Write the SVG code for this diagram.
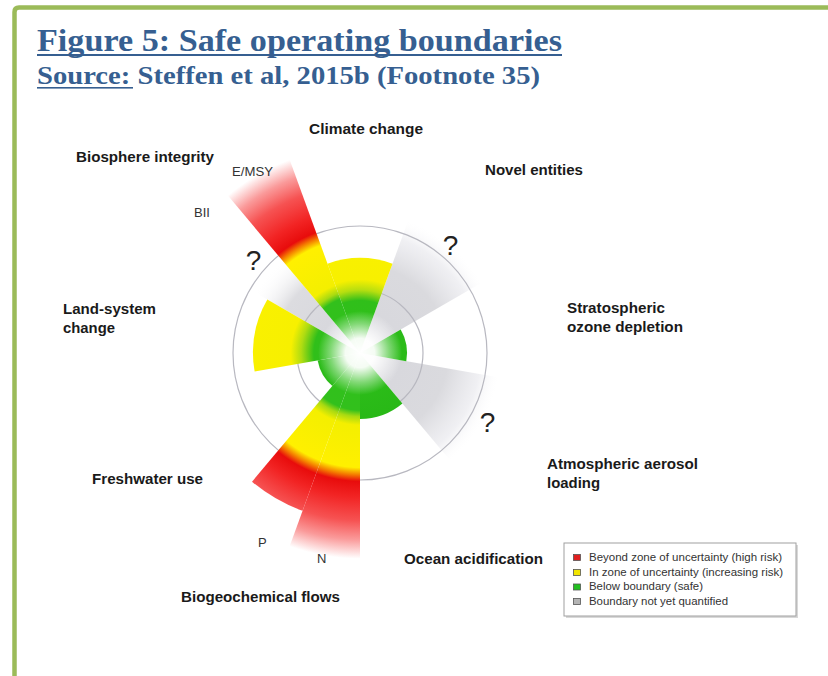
<svg xmlns="http://www.w3.org/2000/svg" width="828" height="676" viewBox="0 0 828 676">
<style>
.lb{font-family:"Liberation Sans",Arial,sans-serif;font-weight:bold;font-size:15px;fill:#1a1a1a}
.sm{font-family:"Liberation Sans",Arial,sans-serif;font-size:13px;fill:#333}
.q{font-family:"Liberation Sans",Arial,sans-serif;font-size:28px;fill:#222}
.lg{font-family:"Liberation Sans",Arial,sans-serif;font-size:11px;fill:#333}
.ttl{font-family:"Liberation Serif","Times New Roman",serif;font-weight:bold;fill:#365f91}
.ring{fill:none;stroke:#b8b8c0;stroke-width:1.2}
.sw{stroke:#555;stroke-width:0.8}
</style>
<defs>
<radialGradient id="gCC" gradientUnits="userSpaceOnUse" cx="360" cy="353" r="210">
<stop offset="0" stop-color="#2fc01c"/><stop offset="0.25" stop-color="#30bf1a"/><stop offset="0.3" stop-color="#b6de10"/><stop offset="0.35" stop-color="#f7f000"/><stop offset="1" stop-color="#fff200"/>
</radialGradient>
<radialGradient id="gLand" gradientUnits="userSpaceOnUse" cx="360" cy="353" r="210">
<stop offset="0" stop-color="#2fc01c"/><stop offset="0.22" stop-color="#30bf1a"/><stop offset="0.28" stop-color="#b0dc12"/><stop offset="0.33" stop-color="#f7f000"/><stop offset="1" stop-color="#fff200"/>
</radialGradient>
<radialGradient id="gHigh" gradientUnits="userSpaceOnUse" cx="360" cy="353" r="212">
<stop offset="0" stop-color="#2fc01c"/><stop offset="0.27" stop-color="#32c01c"/><stop offset="0.3" stop-color="#a8da12"/><stop offset="0.34" stop-color="#f4ef00"/><stop offset="0.54" stop-color="#fff000"/><stop offset="0.575" stop-color="#f47a00"/><stop offset="0.605" stop-color="#e80c0c"/><stop offset="0.68" stop-color="#f22424"/><stop offset="0.79" stop-color="#f65252"/><stop offset="0.88" stop-color="#fa9a9a"/><stop offset="0.97" stop-color="#ffffff"/>
</radialGradient>
<radialGradient id="gGreen" gradientUnits="userSpaceOnUse" cx="360" cy="353" r="70">
<stop offset="0" stop-color="#2fc01c"/><stop offset="1" stop-color="#28b816"/>
</radialGradient>
<radialGradient id="gGrey" gradientUnits="userSpaceOnUse" cx="360" cy="353" r="142">
<stop offset="0" stop-color="#e6e6ea"/><stop offset="0.3" stop-color="#d8d8dd"/><stop offset="0.62" stop-color="#dadade"/><stop offset="0.85" stop-color="#ececf0" stop-opacity="0.8"/><stop offset="1" stop-color="#ffffff" stop-opacity="0"/>
</radialGradient>
<radialGradient id="gGreyB" gradientUnits="userSpaceOnUse" cx="360" cy="353" r="122">
<stop offset="0" stop-color="#e6e6ea"/><stop offset="0.35" stop-color="#d8d8dd"/><stop offset="0.7" stop-color="#dcdce0"/><stop offset="1" stop-color="#ffffff" stop-opacity="0"/>
</radialGradient>
<radialGradient id="gGlow" gradientUnits="userSpaceOnUse" cx="360" cy="353" r="42">
<stop offset="0" stop-color="#ffffff" stop-opacity="1"/><stop offset="0.35" stop-color="#ffffff" stop-opacity="0.95"/><stop offset="0.7" stop-color="#ffffff" stop-opacity="0.4"/><stop offset="1" stop-color="#ffffff" stop-opacity="0"/>
</radialGradient>
</defs>
<rect width="828" height="676" fill="#ffffff"/>
<path d="M14.5,676 V12 Q14.5,7.5 19,7.5 H828" fill="none" stroke="#9bbb59" stroke-width="4.5"/>
<g id="title">
<text class="ttl" x="37" y="51" font-size="31" textLength="525" lengthAdjust="spacingAndGlyphs">Figure 5: Safe operating boundaries</text>
<rect x="37" y="54" width="525" height="2" fill="#365f91"/>
<text class="ttl" x="37" y="84" font-size="25" textLength="503" lengthAdjust="spacingAndGlyphs">Source: Steffen et al, 2015b (Footnote 35)</text>
<rect x="37" y="87" width="96" height="1.6" fill="#365f91"/>
</g>
<g id="grey-wedges">
<path id="w-novel" d="M360,353 L407.88,221.44 A140,140 0 0 1 481.24,283 Z" fill="url(#gGrey)"/>
<path id="w-aerosol" d="M360,353 L497.87,377.31 A140,140 0 0 1 449.99,460.25 Z" fill="url(#gGrey)"/>
<path id="w-bii" d="M360,353 L256.08,293 A120,120 0 0 1 282.87,261.08 Z" fill="url(#gGreyB)"/>
</g>
<g id="rings">
<circle class="ring" cx="360" cy="353" r="127"/>
<circle class="ring" cx="360" cy="353" r="63"/>
</g>
<g id="climate-change">
<path d="M360,353 L327.51,263.73 A95,95 0 0 1 392.49,263.73 Z" fill="url(#gCC)"/>
<text class="lb" x="309" y="134" textLength="114" lengthAdjust="spacingAndGlyphs">Climate change</text>
</g>
<g id="novel-entities">
<text class="lb" x="485" y="175" textLength="98" lengthAdjust="spacingAndGlyphs">Novel entities</text>
<text class="q" x="450.5" y="255" text-anchor="middle">?</text>
</g>
<g id="stratospheric-ozone">
<path d="M360,353 L400.70,329.5 A47,47 0 0 1 406.29,361.16 Z" fill="url(#gGreen)"/>
<text class="lb" x="567" y="313" textLength="98" lengthAdjust="spacingAndGlyphs">Stratospheric</text>
<text class="lb" x="567" y="332" textLength="116" lengthAdjust="spacingAndGlyphs">ozone depletion</text>
</g>
<g id="atmospheric-aerosol">
<text class="lb" x="547" y="469" textLength="151" lengthAdjust="spacingAndGlyphs">Atmospheric aerosol</text>
<text class="lb" x="547" y="488" textLength="53" lengthAdjust="spacingAndGlyphs">loading</text>
<text class="q" x="487.5" y="432" text-anchor="middle">?</text>
</g>
<g id="ocean-acidification">
<path d="M360,353 L402.42,403.56 A66,66 0 0 1 360,419 Z" fill="url(#gGreen)"/>
<text class="lb" x="404" y="564" textLength="139" lengthAdjust="spacingAndGlyphs">Ocean acidification</text>
</g>
<g id="biogeochemical-flows">
<path id="w-n" d="M360,353 L360,563 A210,210 0 0 1 288.18,550.33 Z" fill="url(#gHigh)"/>
<path id="w-p" d="M360,353 L302.54,510.87 A168,168 0 0 1 252.01,481.69 Z" fill="url(#gHigh)"/>
<text class="sm" x="258" y="547">P</text>
<text class="sm" x="317" y="563">N</text>
<text class="lb" x="181" y="602" textLength="159" lengthAdjust="spacingAndGlyphs">Biogeochemical flows</text>
</g>
<g id="freshwater-use">
<path d="M360,353 L332.36,385.94 A43,43 0 0 1 317.65,360.47 Z" fill="url(#gGreen)"/>
<text class="lb" x="92" y="484" textLength="111" lengthAdjust="spacingAndGlyphs">Freshwater use</text>
</g>
<g id="land-system-change">
<path d="M360,353 L254.63,371.58 A107,107 0 0 1 267.33,299.5 Z" fill="url(#gLand)"/>
<text class="lb" x="63" y="314" textLength="93" lengthAdjust="spacingAndGlyphs">Land-system</text>
<text class="lb" x="63" y="333" textLength="52" lengthAdjust="spacingAndGlyphs">change</text>
</g>
<g id="biosphere-integrity">
<path id="w-emsy" d="M360,353 L223.73,190.60 A212,212 0 0 1 287.49,153.79 Z" fill="url(#gHigh)"/>
<text class="lb" x="76" y="162" textLength="138" lengthAdjust="spacingAndGlyphs">Biosphere integrity</text>
<text class="sm" x="232" y="176" textLength="41" lengthAdjust="spacingAndGlyphs">E/MSY</text>
<text class="sm" x="194" y="217">BII</text>
<text class="q" x="253.5" y="270" text-anchor="middle">?</text>
</g>
<circle id="glow" cx="360" cy="353" r="42" fill="url(#gGlow)"/>
<g id="legend">
<rect x="566" y="545" width="232" height="73" fill="#d8d8d8"/>
<rect x="564" y="543" width="232" height="73" fill="#ffffff" stroke="#a0a0a0" stroke-width="1"/>
<rect class="sw" x="573.5" y="554.5" width="7" height="6" fill="#e02020"/>
<rect class="sw" x="573.5" y="569.5" width="7" height="6" fill="#f2e600"/>
<rect class="sw" x="573.5" y="584" width="7" height="6" fill="#22c020"/>
<rect class="sw" x="573.5" y="598.5" width="7" height="6" fill="#b4b4b4"/>
<text class="lg" x="589" y="561" textLength="193" lengthAdjust="spacingAndGlyphs">Beyond zone of uncertainty (high risk)</text>
<text class="lg" x="589" y="575.5" textLength="194" lengthAdjust="spacingAndGlyphs">In zone of uncertainty (increasing risk)</text>
<text class="lg" x="589" y="590" textLength="114" lengthAdjust="spacingAndGlyphs">Below boundary (safe)</text>
<text class="lg" x="589" y="604.5" textLength="139" lengthAdjust="spacingAndGlyphs">Boundary not yet quantified</text>
</g>
</svg>
